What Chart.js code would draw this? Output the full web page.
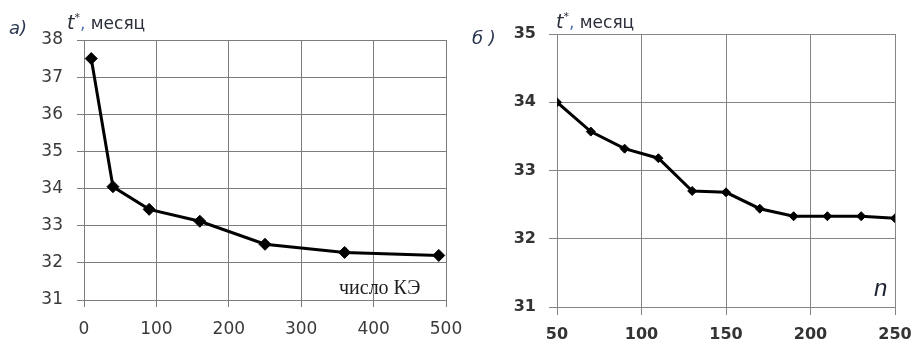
<!DOCTYPE html>
<html><head><meta charset="utf-8">
<script src="https://cdn.jsdelivr.net/npm/chart.js@4/dist/chart.umd.min.js"></script>
<style>
html,body{margin:0;padding:0;background:#fff;}
#wrap{position:relative;width:912px;height:342px;overflow:hidden;}
.cv{position:absolute;top:0;}
.lbl{position:absolute;font-family:"DejaVu Sans",sans-serif;color:#2b2f3a;white-space:nowrap;line-height:1;}
</style></head>
<body>
<div id="wrap">
  <canvas id="cA" class="cv" width="476" height="342" style="left:0"></canvas>
  <canvas id="cB" class="cv" width="452" height="342" style="left:460px"></canvas>
  <div class="lbl" style="left:9px;top:19px;font-size:18px;font-style:italic;color:#2a3650;">а)</div>
  <div class="lbl" style="left:67px;top:12px;font-size:17px;"><i style="font-size:19px">t</i><sup style="font-size:11px;vertical-align:8px;">*</sup><span style="color:#4a70b0">,</span> месяц</div>
  <div class="lbl" style="left:339px;top:277px;font-size:20px;font-family:'Liberation Serif','Times New Roman',serif;color:#1e1e1e;">число КЭ</div>
  <div class="lbl" style="left:472px;top:29px;font-size:18px;font-style:italic;color:#2a3650;">б )</div>
  <div class="lbl" style="left:556px;top:11px;font-size:17px;"><i style="font-size:19px">t</i><sup style="font-size:11px;vertical-align:8px;">*</sup><span style="color:#4a70b0">,</span> месяц</div>
  <div class="lbl" style="left:874px;top:276px;font-size:24px;font-style:italic;font-family:'Liberation Sans',Arial,sans-serif;color:#1e2433;">n</div>
</div>
<script>
// Chart а): t* vs number of finite elements
const elemsA = [10, 40, 90, 160, 250, 360, 490];
const tA = [37.5, 34.05, 33.44, 33.12, 32.5, 32.28, 32.2];
const xTicksA = [0, 100, 200, 300, 400, 500];
const yTicksA = [31, 32, 33, 34, 35, 36, 37, 38];

// Chart б): t* vs n
const nB = [50, 70, 90, 110, 130, 150, 170, 190, 210, 230, 250];
const tB = [34.0, 33.57, 33.32, 33.18, 32.7, 32.68, 32.44, 32.33, 32.33, 32.33, 32.3];
const xTicksB = [50, 100, 150, 200, 250];
const yTicksB = [31, 32, 33, 34, 35];

const FONT = "'DejaVu Sans', sans-serif";

function makeChart(id, xs, ys, xt, yt, cfg) {
  const data = xs.map((x, i) => ({x: x, y: ys[i]}));
  return new Chart(document.getElementById(id), {
    type: 'line',
    data: { datasets: [{
      data: data,
      borderColor: '#000',
      backgroundColor: '#000',
      borderWidth: 3,
      pointStyle: 'rectRot',
      pointRadius: cfg.pr,
      pointBorderWidth: 1,
      tension: 0
    }]},
    options: {
      responsive: false,
      animation: false,
      devicePixelRatio: 1,
      layout: { padding: { left: 0, top: cfg.top, right: cfg.right, bottom: 0 } },
      plugins: { legend: {display: false}, tooltip: {enabled: false}, title: {display: false} },
      scales: {
        x: {
          type: 'linear', min: xt[0], max: xt[xt.length - 1],
          afterBuildTicks: s => { s.ticks = xt.map(v => ({value: v})); },
          afterFit: s => { s.height = cfg.xh; s.paddingLeft = 0; s.paddingRight = 0; },
          grid: { color: cfg.grid, lineWidth: 1, tickLength: cfg.tl, drawTicks: true },
          border: { display: false },
          ticks: { color: cfg.tc, font: { family: FONT, size: cfg.fs, weight: cfg.fw }, padding: cfg.xpad, maxRotation: 0 }
        },
        y: {
          min: yt[0], max: yt[yt.length - 1],
          afterBuildTicks: s => { s.ticks = yt.map(v => ({value: v})); },
          afterFit: s => { s.width = cfg.yw; s.paddingTop = 0; s.paddingBottom = 0; },
          grid: { color: cfg.grid, lineWidth: 1, tickLength: cfg.tl, drawTicks: true },
          border: { display: false },
          ticks: { color: cfg.tc, font: { family: FONT, size: cfg.fs, weight: cfg.fw }, padding: cfg.ypad }
        }
      }
    }
  });
}

makeChart('cA', elemsA, tA, xTicksA, yTicksA,
  { top: 40, right: 30, xh: 42, yw: 84, tl: 7, xpad: 12, ypad: 14, grid: '#7c7c7c', tc: '#3a3a3a', fs: 17, fw: 'normal', pr: 6 });
makeChart('cB', nB, tB, xTicksB, yTicksB,
  { top: 34, right: 17, xh: 35, yw: 97, tl: 8, xpad: 10, ypad: 13, grid: '#858585', tc: '#333', fs: 16, fw: 'bold', pr: 4.5 });
</script>
</body></html>
